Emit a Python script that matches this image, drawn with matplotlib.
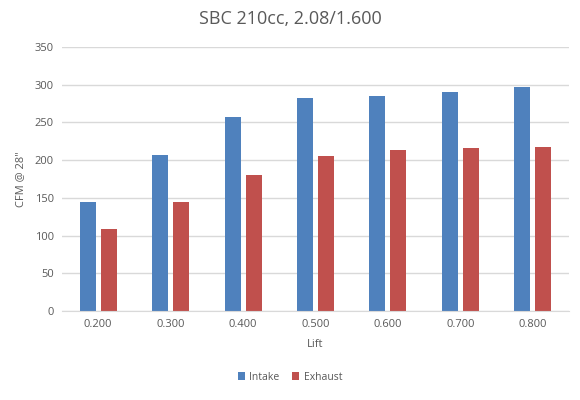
import matplotlib
matplotlib.use("Agg")
import matplotlib.pyplot as plt
import numpy as np

categories = ["0.200", "0.300", "0.400", "0.500", "0.600", "0.700", "0.800"]
intake = [144, 207, 257, 283, 285, 291, 297]
exhaust = [109, 144, 180, 205, 213, 216, 217]

plt.rcParams['font.family'] = ['Open Sans', 'DejaVu Sans']
fig = plt.figure(figsize=(5.8, 4.0), dpi=100)
ax = fig.add_axes([62/580, 1-311/400, (569-62)/580, (311-47)/400])
x = np.arange(len(categories))
w = 0.22
ax.bar(x - 0.145, intake, w, color="#4F81BD", label="Intake")
ax.bar(x + 0.145, exhaust, w, color="#C0504D", label="Exhaust")
ax.set_xlim(-0.5, len(categories) - 0.5)
ax.set_ylim(0, 350)
ax.set_yticks(range(0, 351, 50))
ax.set_xticks(x)
ax.set_xticklabels(categories)
ax.yaxis.grid(True, color="#D9D9D9", linewidth=1)
ax.set_axisbelow(True)
for s in ["top", "right", "left"]:
    ax.spines[s].set_visible(False)
ax.spines["bottom"].set_color("#D9D9D9")
ax.tick_params(length=0, labelsize=8, colors="#595959", pad=6)
ax.set_xlabel("Lift", fontsize=8, color="#595959", labelpad=6)
ax.set_ylabel('CFM @ 28"', fontsize=8, color="#595959", labelpad=6)
fig.suptitle("SBC 210cc, 2.08/1.600", y=0.975, fontsize=13, color="#595959")
fig.legend(loc="lower center", bbox_to_anchor=(0.5, 0.02), ncol=2, frameon=False,
           fontsize=7.5, handlelength=0.7, handleheight=0.7, labelcolor="#595959",
           columnspacing=1.2, handletextpad=0.4)
fig.savefig("out.png", dpi=100)
